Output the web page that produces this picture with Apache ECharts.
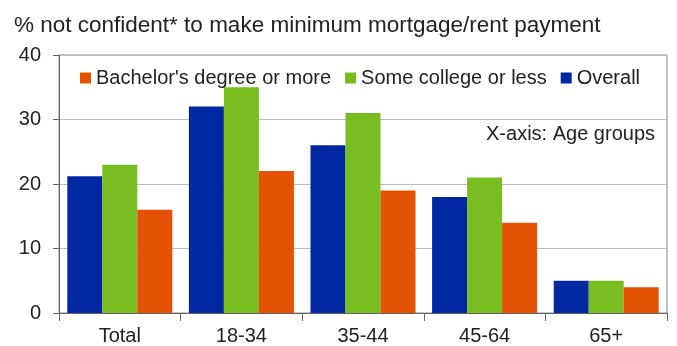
<!DOCTYPE html>
<html><head><meta charset="utf-8">
<script src="https://cdn.jsdelivr.net/npm/echarts@6/dist/echarts.min.js"></script>
<style>html,body{margin:0;padding:0;background:#fff}#c{width:677px;height:346px}</style>
</head><body><div id="c"></div>
<script>
const categories = ['Total', '18-34', '35-44', '45-64', '65+'];
const overall = [21.2, 32, 26, 18, 5];
const someCollege = [23, 35, 31, 21, 5];
const bachelors = [16, 22, 19, 14, 4];
const yTicks = [0, 10, 20, 30, 40];

const chart = echarts.init(document.getElementById('c'));
const font = 'Liberation Sans, Arial, sans-serif';
chart.setOption({
  animation: false,
  title: {
    text: '% not confident* to make minimum mortgage/rent payment',
    left: 9, top: 9,
    textStyle: {fontFamily: font, fontSize: 22.5, fontWeight: 'normal', color: '#222'}
  },
  legend: {
    data: ["Bachelor's degree or more", 'Some college or less', 'Overall'],
    left: 75, top: 63,
    itemWidth: 11, itemHeight: 11, itemGap: 14,
    icon: 'rect',
    textStyle: {fontFamily: font, fontSize: 20, color: '#222'}
  },
  grid: {left: 59, right: 10, top: 55, bottom: 32, show: true, borderColor: '#888', borderWidth: 1},
  graphic: [{
    type: 'text', right: 22, top: 124,
    style: {text: 'X-axis: Age groups', font: '20px ' + font, fill: '#222'}
  }],
  xAxis: {
    type: 'category', data: categories,
    axisLine: {lineStyle: {color: '#666'}},
    axisTick: {show: true, length: 8, lineStyle: {color: '#666'}},
    axisLabel: {fontFamily: font, fontSize: 20, color: '#222', margin: 13}
  },
  yAxis: {
    type: 'value', min: yTicks[0], max: yTicks[yTicks.length-1], interval: 10,
    axisLine: {show: true, lineStyle: {color: '#666'}},
    axisTick: {show: true, length: 6, lineStyle: {color: '#666'}},
    axisLabel: {fontFamily: font, fontSize: 20, color: '#222', margin: 18},
    splitLine: {lineStyle: {color: '#bbb'}}
  },
  series: [
    {name: 'Overall', type: 'bar', data: overall, itemStyle: {color: '#0028A0'}, barWidth: 35, barGap: '0%'},
    {name: 'Some college or less', type: 'bar', data: someCollege, itemStyle: {color: '#78BE20'}, barWidth: 35, barGap: '0%'},
    {name: "Bachelor's degree or more", type: 'bar', data: bachelors, itemStyle: {color: '#E35205'}, barWidth: 35, barGap: '0%'}
  ]
});
</script></body></html>
